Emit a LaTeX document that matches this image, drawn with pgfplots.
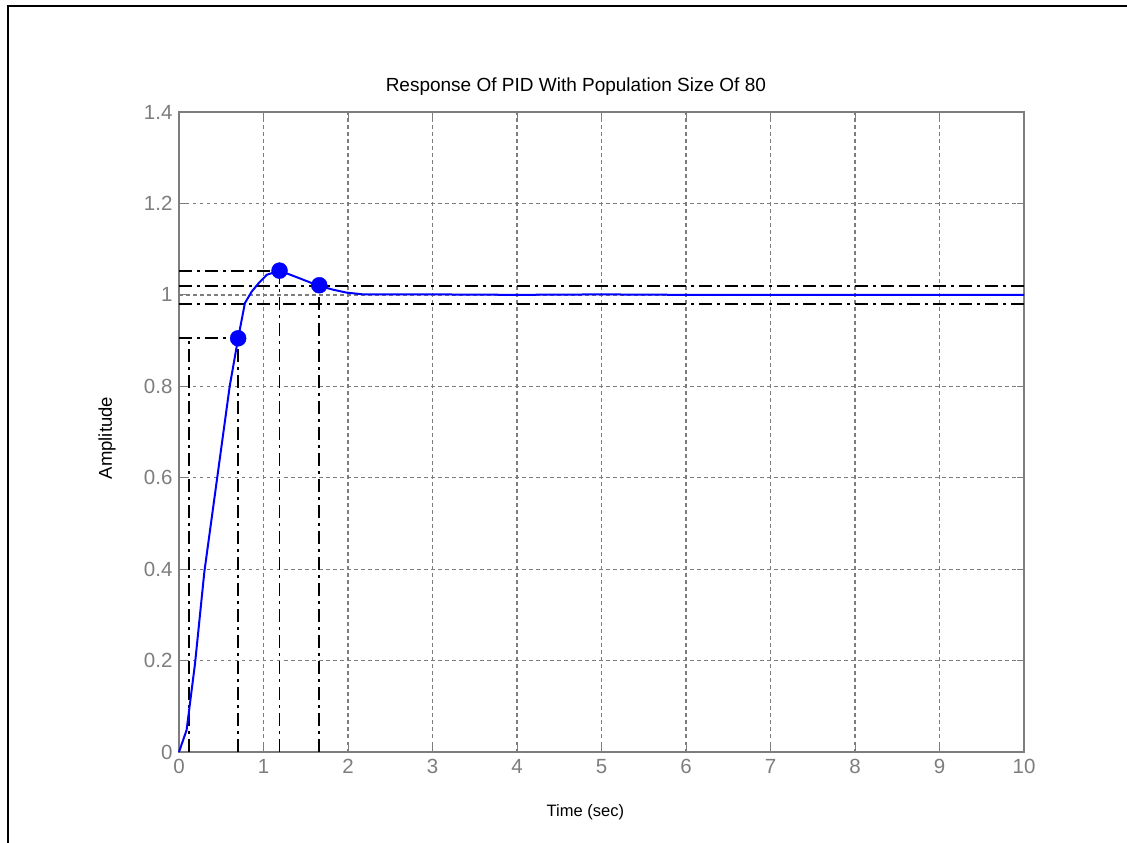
\documentclass[border=0pt]{standalone}
\usepackage{pgfplots}
\pgfplotsset{compat=1.18}
\usepackage{fontspec}
\setmainfont{Liberation Sans}
\definecolor{axgray}{RGB}{125,125,125}
\definecolor{mblue}{RGB}{0,0,255}
\begin{document}
\begin{tikzpicture}
\useasboundingbox (-179pt,-91pt) rectangle (948pt,752pt);
\draw[line width=2.2pt] (-171pt,-91pt) -- (-171pt,746pt) -- (960pt,746pt);
\begin{axis}[
  at={(0pt,0pt)}, anchor=south west,
  width=845pt, height=640pt, scale only axis,
  xmin=0, xmax=10, ymin=0, ymax=1.4,
  xtick={0,1,...,10},
  ytick={0,0.2,0.4,0.6,0.8,1,1.2,1.4},
  yticklabels={0,0.2,0.4,0.6,0.8,1,1.2,1.4},
  grid=major,
  grid style={axgray, line width=1.1pt, dash pattern=on 3.5pt off 3.5pt},
  axis line style={axgray, line width=1.6pt},
  tick align=inside,
  major tick length=7pt,
  tick style={axgray, line width=1pt},
  /pgf/number format/assume math mode=true,
  tick label style={text=axgray, font=\fontsize{20.5}{22}\selectfont},
  xticklabel style={yshift=-4pt},
  yticklabel style={xshift=-3pt},
  title={Response Of PID With Population Size Of 80},
  title style={at={(axis description cs:0.2405,1.03)}, anchor=west, yshift=0pt, font=\fontsize{19}{21}\selectfont},
  xlabel={Time (sec)},
  xlabel style={at={(axis description cs:0.431,-0.0935)}, anchor=west, font=\fontsize{16.5}{20}\selectfont},
  ylabel={Amplitude},
  ylabel style={at={(axis description cs:-0.0852,0.4906)}, anchor=center, font=\fontsize{18.5}{20}\selectfont},
  clip=false,
]
% steady-state reference
\addplot[axgray, line width=1.8pt, dash pattern=on 4pt off 3pt] coordinates {(0,1) (10,1)};
% settling bounds
\addplot[black, line width=1.8pt, dash pattern=on 13pt off 5pt on 3pt off 5pt] coordinates {(0,1.02) (10,1.02)};
\addplot[black, line width=1.8pt, dash pattern=on 13pt off 5pt on 3pt off 5pt] coordinates {(0,0.98) (10,0.98)};
% peak
\addplot[black, line width=1.8pt, dash pattern=on 13pt off 5pt on 3pt off 5pt] coordinates {(0,1.053) (1.19,1.053)};
\addplot[black, line width=1.8pt, dash pattern=on 13pt off 5pt on 3pt off 5pt] coordinates {(1.19,0) (1.19,1.053)};
% rise time
\addplot[black, line width=1.8pt, dash pattern=on 13pt off 5pt on 3pt off 5pt] coordinates {(0,0.905) (0.70,0.905)};
\addplot[black, line width=1.8pt, dash pattern=on 13pt off 5pt on 3pt off 5pt] coordinates {(0.70,0) (0.70,0.905)};
\addplot[black, line width=1.8pt, dash pattern=on 13pt off 5pt on 3pt off 5pt] coordinates {(0.12,0) (0.12,0.905)};
% settling time
\addplot[black, line width=1.8pt, dash pattern=on 13pt off 5pt on 3pt off 5pt] coordinates {(1.66,0) (1.66,1.02)};
% response
\addplot[mblue, line width=2pt] coordinates {
(0,0) (0.09,0.048) (0.19,0.194) (0.30,0.394) (0.45,0.597) (0.60,0.80) (0.70,0.905)
(0.78,0.982) (0.86,1.007) (0.94,1.025) (1.04,1.044) (1.19,1.053) (1.43,1.036)
(1.65,1.020) (1.83,1.011) (1.98,1.005) (2.18,1.001) (3,1.001) (4,1.0) (5,1.001)
(6,1.0) (7,1.0) (8,1.0) (9,1.0) (10,1.0)};
% characteristic markers
\addplot[only marks, mark=*, mark size=8pt, mark options={fill=mblue, draw=mblue}] coordinates {
(0.70,0.905) (1.19,1.053) (1.66,1.021)};
\end{axis}
\end{tikzpicture}
\end{document}
